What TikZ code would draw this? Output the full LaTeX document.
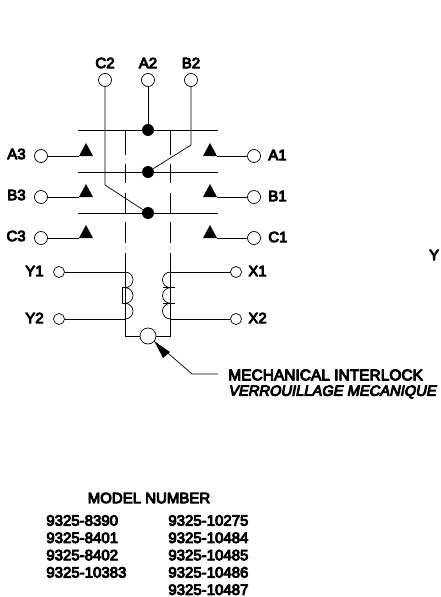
\documentclass[tikz,border=0pt]{standalone}
\usepackage{fontspec}
\setmainfont{Liberation Sans}
\newfontfamily\heavyfont[FakeBold=6]{Liberation Sans}
\newfontfamily\heavyslant[FakeBold=6,FakeSlant=0.2]{Liberation Sans}
\tikzset{>=latex}
\tikzset{
    term/.style = {circle, draw, fill=white, inner sep=0pt, minimum size=13pt},
    smallterm/.style = {circle, draw, fill=white, inner sep=0pt, minimum size=11pt},
    contact/.style = {circle, fill, inner sep=0pt, minimum size=12pt},
    lbl/.style = {font=\heavyfont\fontsize{15}{15}\selectfont, inner sep=0pt},
}
\newcommand{\tipmark}[2]{\fill (#1-7,#2) -- (#1,#2-13) -- (#1+7,#2) -- cycle;}
\begin{document}
\begin{tikzpicture}[x=1pt, y=-1pt, line join = round, line width=0.7pt]
    \useasboundingbox (0,0) rectangle (440,597);
    % top terminals
    \node[term] (c2) at (105,80) {};
    \node[term] (a2) at (148,80) {};
    \node[term] (b2) at (191,80) {};
    \node[lbl] (c2l) at (105,63) {C2};
    \node[lbl] (a2l) at (148,63) {A2};
    \node[lbl] (b2l) at (191,63) {B2};
    % moving contacts
    \draw (78,130) -- (218,130);
    \draw (78,172) -- (218,172);
    \draw (78,213) -- (218,213);
    \node[contact] (ca) at (148,130) {};
    \node[contact] (cb) at (148,172) {};
    \node[contact] (cc) at (148,213) {};
    \draw (a2) -- (ca);
    \coordinate (bk) at (191,145);
    \coordinate (ck) at (105,185);
    \draw (b2) -- (bk) -- (cb);
    \draw (c2) -- (ck) -- (cc);
    % mechanical link, dashed by hand
    \foreach \x in {125,170.5} {
        \draw (\x,130) -- (\x,155) (\x,164) -- (\x,183) (\x,193) -- (\x,213);
        \draw (\x,222) -- (\x,243) (\x,253) -- (\x,336);
    }
    % side terminals
    \foreach \n/\y in {A/156,B/197,C/238} {
        \node[term] (\n3) at (41,\y) {};
        \node[term] (\n1) at (254,\y) {};
        \node[lbl, anchor=east] (\n3l) at (26,\y-2) {\n3};
        \node[lbl, anchor=west] (\n1l) at (268,\y-1) {\n1};
        \coordinate (\n3t) at (79,\y);
        \coordinate (\n1t) at (217,\y);
        \draw (\n3) -- (\n3t);
        \draw (\n1) -- (\n1t);
        \tipmark{86}{\y}
        \tipmark{210}{\y}
    }
    % coil terminals
    \node[smallterm] (y1) at (59,272) {};
    \node[smallterm] (y2) at (59,319) {};
    \node[smallterm] (x1) at (236,272) {};
    \node[smallterm] (x2) at (236,319) {};
    \node[lbl, anchor=east] (y1l) at (44,271) {Y1};
    \node[lbl, anchor=east] (y2l) at (44,318) {Y2};
    \node[lbl, anchor=west] (x1l) at (248,271) {X1};
    \node[lbl, anchor=west] (x2l) at (248,318) {X2};
    \coordinate (lt) at (125,272);
    \coordinate (lb) at (125,319);
    \coordinate (rt) at (170.5,272);
    \coordinate (rb) at (170.5,319);
    \draw (y1) -- (lt);
    \draw (y2) -- (lb);
    \draw (x1) -- (rt);
    \draw (x2) -- (rb);
    % coils
    \draw (lt) arc[start angle=90, end angle=-90, x radius=8pt, y radius=7.83pt]
        arc[start angle=90, end angle=-90, x radius=8pt, y radius=7.83pt]
        arc[start angle=90, end angle=-90, x radius=8pt, y radius=7.83pt];
    \draw (rt) arc[start angle=90, end angle=270, x radius=8pt, y radius=7.83pt]
        arc[start angle=90, end angle=270, x radius=8pt, y radius=7.83pt]
        arc[start angle=90, end angle=270, x radius=8pt, y radius=7.83pt];
    % core
    \draw (127,287) -- (122,287) -- (122,303) -- (127,303);
    \draw (163,287) -- (175,287) (163,303) -- (175,303);
    % interlock
    \draw (125,336) -- (170.5,336);
    \node[circle, draw, fill=white, inner sep=0pt, minimum size=16pt] (lock) at (148,336) {};
    \coordinate (lk) at (192,374);
    \coordinate (le) at (218,374);
    \draw (le) -- (lk) -- (lock.-40);
    \fill (lock.-40) -- (170,352) -- (163,358) -- cycle;
    \node[lbl, anchor=west, font=\heavyfont\fontsize{15.5}{15.5}\selectfont] (mech) at (228,375) {MECHANICAL INTERLOCK};
    \node[lbl, anchor=west, font=\heavyslant\fontsize{14.7}{14.7}\selectfont] (verr) at (228,392) {VERROUILLAGE MECANIQUE};
    \node[lbl, anchor=east] (ypart) at (439.5,255) {Y};
    % model list
    \node[lbl] (model) at (149,498) {MODEL NUMBER};
    \foreach \i/\t in {0/9325-8390,1/9325-8401,2/9325-8402,3/9325-10383} {
        \node[lbl, anchor=west] (ml\i) at (46,520.5+\i*17.3) {\t};
    }
    \foreach \i/\t in {0/9325-10275,1/9325-10484,2/9325-10485,3/9325-10486,4/9325-10487} {
        \node[lbl, anchor=west] (mr\i) at (168,520.5+\i*17.3) {\t};
    }
\end{tikzpicture}
\end{document}
